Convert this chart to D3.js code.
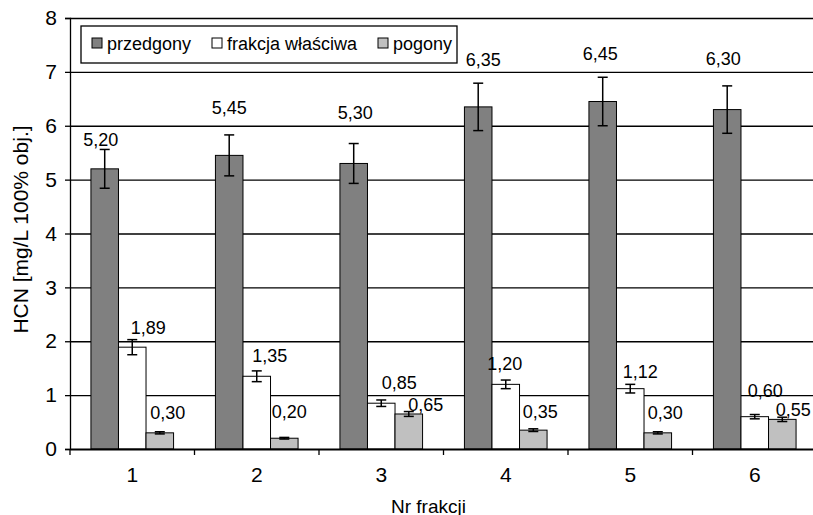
<!DOCTYPE html>
<html>
<head>
<meta charset="utf-8">
<script src="https://cdn.jsdelivr.net/npm/d3@7"></script>
<style>
  body { margin: 0; background: #fff; }
  svg text { font-family: "Liberation Sans", Arial, sans-serif; fill: #000; }
</style>
</head>
<body>
<div id="chart"></div>
<script>
// data
var categories = ["1", "2", "3", "4", "5", "6"];
var seriesNames = ["przedgony", "frakcja właściwa", "pogony"];
var przedgony = [5.20, 5.45, 5.30, 6.35, 6.45, 6.30];
var frakcja = [1.89, 1.35, 0.85, 1.20, 1.12, 0.60];
var pogony = [0.30, 0.20, 0.65, 0.35, 0.30, 0.55];
var errPrzedgony = [0.36, 0.38, 0.37, 0.44, 0.45, 0.44];
var errFrakcja = [0.14, 0.10, 0.06, 0.08, 0.08, 0.04];
var errPogony = [0.02, 0.015, 0.045, 0.025, 0.02, 0.04];
var yTicks = [0, 1, 2, 3, 4, 5, 6, 7, 8];

var colors = ["#808080", "#ffffff", "#c0c0c0"];

// label nudges (pixels) relative to top of each bar, like they were dragged in the original
var labelDx = [[-4, 0, 1.5, 5, -2.5, -4], [16, 13, 18, -1, 10, 10.5], [8, 5, 17, 7, 7.5, 11]];
var labelDy = [[-29, -47.5, -50.6, -47, -47.7, -50.8], [-19.5, -20, -20, -20, -17, -26], [-20, -26, -9, -18, -20, -9.5]];

var margin = {top: 18, left: 70},
    width = 747,
    height = 431;

var rows = categories.map(function(c, i) {
  return {cat: c, i: i,
    vals: [przedgony[i], frakcja[i], pogony[i]],
    errs: [errPrzedgony[i], errFrakcja[i], errPogony[i]]};
});

var svg = d3.select("#chart").append("svg")
  .attr("width", 813).attr("height", 515)
  .append("g")
  .attr("transform", "translate(" + margin.left + "," + margin.top + ")");

var x = d3.scaleBand().domain(categories).range([0, width]).padding(0);
var x1 = d3.scaleBand().domain([0, 1, 2]).range([0, x.bandwidth()]).paddingInner(0).paddingOuter(0.76);
var y = d3.scaleLinear().domain([0, 8]).range([height, 0]);

// grid
svg.append("g")
  .call(d3.axisLeft(y).tickValues(yTicks.slice(1)).tickSize(-width).tickFormat(""))
  .call(function(g) { g.select(".domain").remove(); })
  .selectAll("line").attr("stroke", "#000").attr("stroke-width", 1.3);

// y axis
var yAxis = svg.append("g")
  .call(d3.axisLeft(y).tickValues(yTicks).tickSize(5).tickPadding(8).tickFormat(d3.format("d")));
yAxis.select(".domain").attr("stroke", "#000").attr("stroke-width", 1.3);
yAxis.selectAll("line").attr("stroke", "#000").attr("stroke-width", 1.3);
yAxis.selectAll("text").style("font-size", "21px").attr("font-family", "Liberation Sans, Arial");

// bars
var groups = svg.append("g").selectAll("g")
  .data(rows).enter().append("g")
  .attr("transform", function(d) { return "translate(" + x(d.cat) + ",0)"; });

groups.selectAll("rect")
  .data(function(d) { return d.vals.map(function(v, s) { return {s: s, v: v}; }); })
  .enter().append("rect")
  .attr("x", function(d) { return x1(d.s); })
  .attr("width", x1.bandwidth())
  .attr("y", function(d) { return y(d.v); })
  .attr("height", function(d) { return height - y(d.v); })
  .attr("fill", function(d) { return colors[d.s]; })
  .attr("stroke", "#000").attr("stroke-width", 1);

// error bars
var eb = groups.selectAll("g.err")
  .data(function(d) { return d.vals.map(function(v, s) { return {s: s, v: v, e: d.errs[s]}; }); })
  .enter().append("g").attr("class", "err");
var capW = 5;
eb.append("line")
  .attr("x1", function(d) { return x1(d.s) + x1.bandwidth() / 2; })
  .attr("x2", function(d) { return x1(d.s) + x1.bandwidth() / 2; })
  .attr("y1", function(d) { return y(d.v + d.e); })
  .attr("y2", function(d) { return y(d.v - d.e); });
eb.append("line")
  .attr("x1", function(d) { return x1(d.s) + x1.bandwidth() / 2 - capW; })
  .attr("x2", function(d) { return x1(d.s) + x1.bandwidth() / 2 + capW; })
  .attr("y1", function(d) { return y(d.v + d.e); })
  .attr("y2", function(d) { return y(d.v + d.e); });
eb.append("line")
  .attr("x1", function(d) { return x1(d.s) + x1.bandwidth() / 2 - capW; })
  .attr("x2", function(d) { return x1(d.s) + x1.bandwidth() / 2 + capW; })
  .attr("y1", function(d) { return y(d.v - d.e); })
  .attr("y2", function(d) { return y(d.v - d.e); });
eb.selectAll("line").attr("stroke", "#000").attr("stroke-width", 1.5);

// data labels
var fmt = function(v) { return d3.format(".2f")(v).replace(".", ","); };
groups.selectAll("text.lbl")
  .data(function(d) { return d.vals.map(function(v, s) { return {s: s, v: v, i: d.i}; }); })
  .enter().append("text").attr("class", "lbl")
  .attr("x", function(d) { return x1(d.s) + x1.bandwidth() / 2 + labelDx[d.s][d.i]; })
  .attr("y", function(d) { return y(d.v) + labelDy[d.s][d.i]; })
  .attr("text-anchor", "middle")
  .attr("dominant-baseline", "central")
  .style("font-size", "18px")
  .text(function(d) { return fmt(d.v); });

// x axis
var xAxis = svg.append("g")
  .attr("transform", "translate(0," + height + ")")
  .call(d3.axisBottom(x).tickSize(0).tickPadding(18));
xAxis.select(".domain").attr("stroke", "#000").attr("stroke-width", 2.2);
xAxis.selectAll("text").style("font-size", "21px").attr("font-family", "Liberation Sans, Arial");
svg.append("g").selectAll("line")
  .data(categories.concat(["end"]))
  .enter().append("line")
  .attr("x1", function(d, i) { return i * x.step(); })
  .attr("x2", function(d, i) { return i * x.step(); })
  .attr("y1", height).attr("y2", height + 6)
  .attr("stroke", "#000").attr("stroke-width", 1.3);

// axis titles
svg.append("text")
  .attr("transform", "translate(" + (-50) + "," + (height / 2 - 4) + ") rotate(-90)")
  .attr("text-anchor", "middle")
  .attr("dominant-baseline", "central")
  .style("font-size", "21px")
  .text("HCN [mg/L 100% obj.]");
svg.append("text")
  .attr("x", width / 2 - 15)
  .attr("y", height + 57)
  .attr("text-anchor", "middle")
  .attr("dominant-baseline", "central")
  .style("font-size", "19px")
  .text("Nr frakcji");

// legend
var legend = svg.append("g").attr("transform", "translate(11,8)");
legend.append("rect")
  .attr("width", 376).attr("height", 37)
  .attr("fill", "#fff").attr("stroke", "#000").attr("stroke-width", 1.3);
var legX = [11, 131, 297];
var li = legend.selectAll("g.li").data(seriesNames).enter().append("g")
  .attr("transform", function(d, i) { return "translate(" + legX[i] + ",12)"; });
li.append("rect").attr("width", 10).attr("height", 10)
  .attr("fill", function(d, i) { return colors[i]; })
  .attr("stroke", "#000").attr("stroke-width", 1);
li.append("text").attr("x", 15).attr("y", 5.5)
  .attr("dominant-baseline", "central")
  .style("font-size", "18px")
  .text(function(d) { return d; });
</script>
</body>
</html>
